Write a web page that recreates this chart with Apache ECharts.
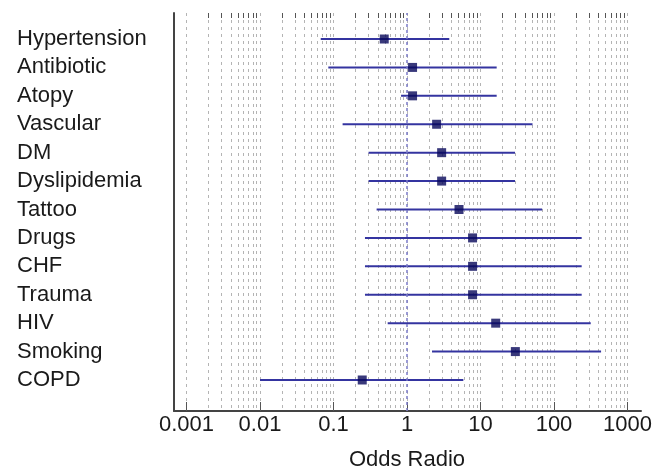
<!DOCTYPE html>
<html>
<head>
<meta charset="utf-8">
<script src="https://cdn.jsdelivr.net/npm/echarts@6/dist/echarts.min.js"></script>
<style>
  html, body { margin: 0; padding: 0; background: #fff; }
  #main { width: 668px; height: 475px; }
</style>
</head>
<body>
<div id="main"></div>
<script>
// risk factors, top to bottom
var factors = ['Hypertension', 'Antibiotic', 'Atopy', 'Vascular', 'DM', 'Dyslipidemia',
  'Tattoo', 'Drugs', 'CHF', 'Trauma', 'HIV', 'Smoking', 'COPD'];
var oddsRatio = [0.49, 1.19, 1.19, 2.53, 2.96, 2.96, 5.1, 7.8, 7.8, 7.8, 16.1, 29.8, 0.246];
var ciLow = [0.067, 0.085, 0.83, 0.133, 0.30, 0.30, 0.386, 0.268, 0.268, 0.268, 0.546, 2.19, 0.010];
var ciHigh = [3.76, 16.6, 16.6, 51, 29.5, 29.5, 69, 238, 238, 238, 316, 437, 5.84];
var decades = [0.001, 0.01, 0.1, 1, 10, 100, 1000];

// minor grid values 2..9 inside each decade
var minorVals = [];
for (var d = 0; d < decades.length - 1; d++) {
  for (var k = 2; k <= 9; k++) minorVals.push(+(decades[d] * k).toPrecision(3));
}

var font = 'Liberation Sans, Arial, sans-serif';
var dashGrid = { color: '#b4b4b4', width: 1, type: [3, 4] };

var chart = echarts.init(document.getElementById('main'));
chart.setOption({
  animation: false,
  grid: [
    // data rows
    { left: 186.5, right: 40.5, top: 24.8, bottom: 80.8, outerBoundsMode: 'none' },
    // grid lines / ticks / labels
    { left: 186.5, right: 40.5, top: 13, bottom: 64, outerBoundsMode: 'none' },
    // frame lines
    { left: 174, right: 27, top: 13, bottom: 64, outerBoundsMode: 'none' }
  ],
  xAxis: [
    { gridIndex: 0, type: 'log', min: 0.001, max: 1000, show: false },
    {
      gridIndex: 1, type: 'log', min: 0.001, max: 1000, splitNumber: 6,
      axisLine: { show: false },
      axisTick: { inside: true, length: 9, lineStyle: { color: '#555' } },
      splitLine: { show: true, lineStyle: dashGrid },
      axisLabel: {
        margin: 3, fontSize: 22, color: '#1a1a1a', fontFamily: font,
        formatter: function (v) { return v >= 1 ? String(Math.round(v)) : String(+v.toPrecision(1)); }
      },
      name: 'Odds Radio', nameLocation: 'middle', nameGap: 38,
      nameTextStyle: { fontSize: 22, color: '#1a1a1a', fontFamily: font }
    },
    {
      gridIndex: 1, type: 'log', min: 0.001, max: 1000,
      axisLine: { show: false },
      axisLabel: { show: false },
      axisTick: { inside: true, length: 5, customValues: minorVals, lineStyle: { color: '#555' } },
      splitLine: { show: true, lineStyle: dashGrid }
    },
    {
      gridIndex: 2, type: 'value', min: 0, max: 1,
      axisLine: { show: true, lineStyle: { color: '#444', width: 2 } },
      axisTick: { show: false }, axisLabel: { show: false }, splitLine: { show: false }
    }
  ],
  yAxis: [
    {
      gridIndex: 0, type: 'category', data: factors, inverse: true,
      axisLine: { show: false }, axisTick: { show: false },
      axisLabel: { interval: 0, align: 'left', margin: 169.5, fontSize: 22, color: '#1a1a1a', fontFamily: font }
    },
    { gridIndex: 1, type: 'value', min: 0, max: 1, show: false },
    {
      gridIndex: 2, type: 'value', min: 0, max: 1,
      axisLine: { show: true, lineStyle: { color: '#444', width: 2 } },
      axisTick: { show: false }, axisLabel: { show: false }, splitLine: { show: false }
    }
  ],
  series: [
    {
      // reference line at OR = 1
      type: 'scatter', xAxisIndex: 1, yAxisIndex: 1, symbolSize: 0, silent: true,
      data: [[1, 0.5]],
      markLine: {
        silent: true, symbol: 'none', label: { show: false },
        lineStyle: { color: '#7b7bc8', width: 1.5, type: [3, 3] },
        data: [{ xAxis: 1 }]
      }
    },
    {
      type: 'custom', xAxisIndex: 0, yAxisIndex: 0,
      encode: { x: [1, 2], y: 0 },
      data: factors.map(function (f, i) { return [i, ciLow[i], ciHigh[i]]; }),
      renderItem: function (params, api) {
        var a = api.coord([api.value(1), api.value(0)]);
        var b = api.coord([api.value(2), api.value(0)]);
        return {
          type: 'line',
          shape: { x1: a[0], y1: a[1], x2: b[0], y2: b[1] },
          style: { stroke: '#3434a0', lineWidth: 2 }
        };
      }
    },
    {
      type: 'scatter', xAxisIndex: 0, yAxisIndex: 0,
      symbol: 'rect', symbolSize: 9,
      itemStyle: { color: '#08085a' },
      data: factors.map(function (f, i) { return [oddsRatio[i], f]; })
    }
  ]
});
</script>
</body>
</html>
